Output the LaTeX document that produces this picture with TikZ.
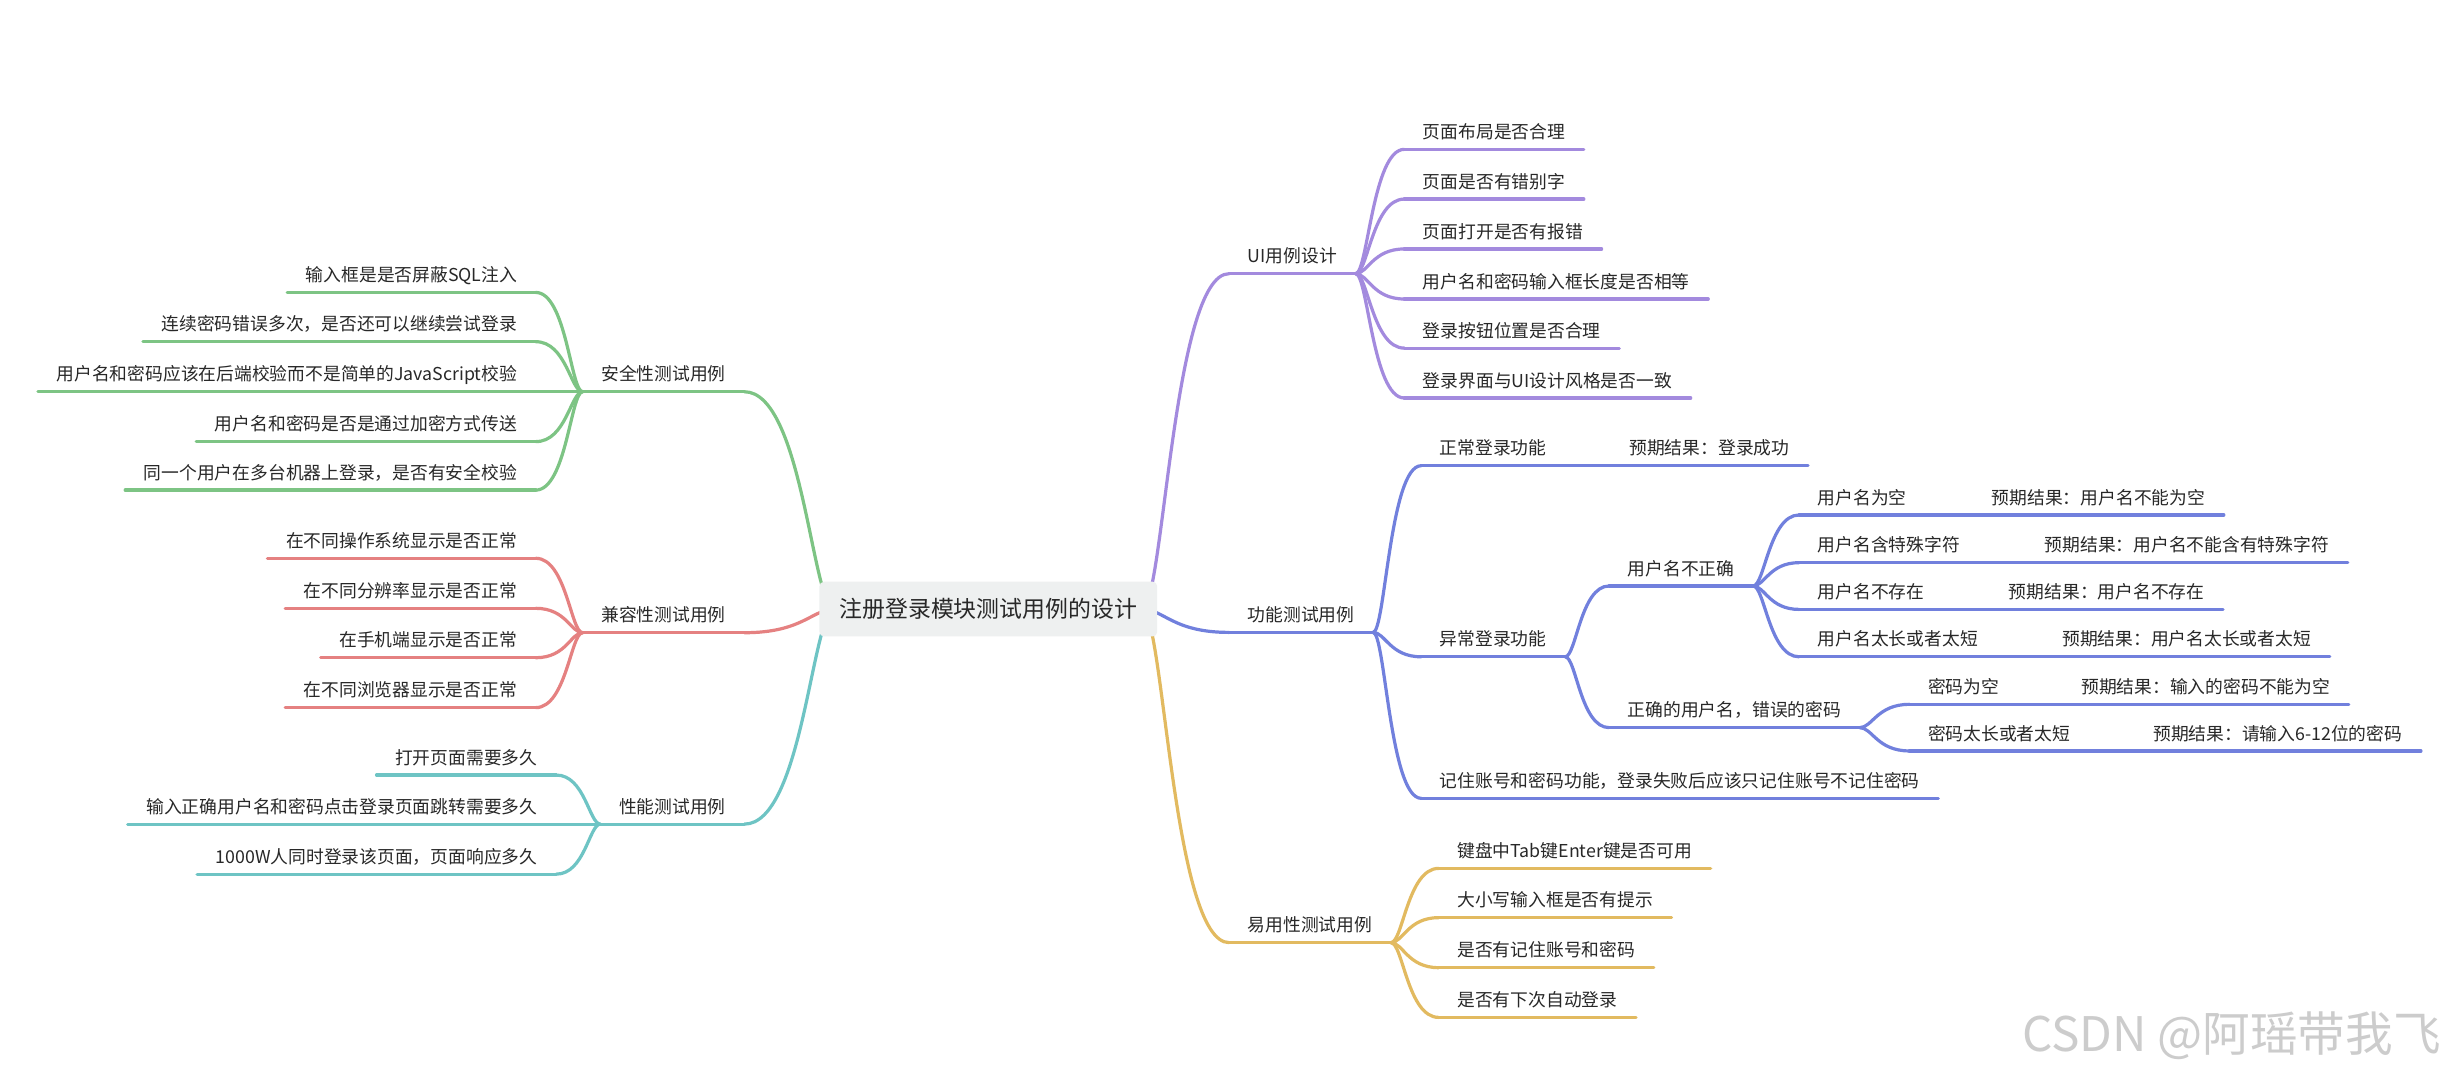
\documentclass[tikz,border=0pt]{standalone}
\usepackage{fontspec}
\setmainfont{Noto Sans CJK SC}
\usepackage{xcolor}
\usepackage{tikz}
\usetikzlibrary{calc, backgrounds}

\definecolor{mmpurple}{RGB}{163,138,222}
\definecolor{mmblue}{RGB}{113,128,221}
\definecolor{mmyellow}{RGB}{226,186,96}
\definecolor{mmgreen}{RGB}{125,196,132}
\definecolor{mmred}{RGB}{229,129,129}
\definecolor{mmteal}{RGB}{110,196,196}
\definecolor{mmtext}{RGB}{40,40,40}
\definecolor{mmroot}{RGB}{238,240,240}

\begin{document}
\begin{tikzpicture}[x=0.03cm, y=-0.03cm,
  topic/.style={font=\fontsize{9.7}{12}\selectfont, text=mmtext, inner xsep=10pt, inner ysep=4.2pt, text height=7.5pt, text depth=1.5pt},
  twig/.style={draw=#1, line width=1.75pt, line cap=round},
  branch/.style={to path={let \p1=(\tikztostart), \p2=(\tikztotarget) in
    .. controls ({\x1+0.25*(\x2-\x1)},\y1) and ({\x1+0.35*(\x2-\x1)},\y2) .. (\tikztotarget)}}]
\useasboundingbox (0,0) rectangle (1568,688);

% Root
\node[fill=mmroot, rounded corners=2.5pt, minimum width=6.48cm, minimum height=1.05cm, font=\fontsize{12.5}{15}\selectfont, text=mmtext] (root) at (632,389.5) {注册登录模块测试用例的设计};
\coordinate (rootR) at ([xshift=-0.3cm]root.east);
\coordinate (rootL) at ([xshift=0.3cm]root.west);

% UI
\node[topic, anchor=south west] (ui) at (786,175) {UI用例设计};
\node[topic, anchor=south west] (ui1) at (898,95.5) {页面布局是否合理};
\node[topic, anchor=south west] (ui2) at (898,127.3) {页面是否有错别字};
\node[topic, anchor=south west] (ui3) at (898,159.2) {页面打开是否有报错};
\node[topic, anchor=south west] (ui4) at (898,191.2) {用户名和密码输入框长度是否相等};
\node[topic, anchor=south west] (ui5) at (898,222.6) {登录按钮位置是否合理};
\node[topic, anchor=south west] (ui6) at (898,254.5) {登录界面与UI设计风格是否一致};

% Function
\node[topic, anchor=south west] (fn) at (786,404.4) {功能测试用例};
\node[topic, anchor=south west] (fn1) at (908.8,297.8) {正常登录功能};
\node[topic, anchor=south west] (fn1r) at (1030,297.8) {预期结果：登录成功};
\node[topic, anchor=south west] (fn2) at (908.8,420) {异常登录功能};
\node[topic, anchor=south west] (fn3) at (908.8,510.5) {记住账号和密码功能，登录失败后应该只记住账号不记住密码};
\node[topic, anchor=south west] (fn21) at (1029,374.7) {用户名不正确};
\node[topic, anchor=south west] (fn22) at (1029,465.3) {正确的用户名，错误的密码};
\node[topic, anchor=south west] (fn211) at (1150.5,329.3) {用户名为空};
\node[topic, anchor=south west] (fn211r) at (1261.8,329.3) {预期结果：用户名不能为空};
\node[topic, anchor=south west] (fn212) at (1150.5,359.8) {用户名含特殊字符};
\node[topic, anchor=south west] (fn212r) at (1295.6,359.8) {预期结果：用户名不能含有特殊字符};
\node[topic, anchor=south west] (fn213) at (1150.5,389.7) {用户名不存在};
\node[topic, anchor=south west] (fn213r) at (1272.7,389.7) {预期结果：用户名不存在};
\node[topic, anchor=south west] (fn214) at (1150.5,420) {用户名太长或者太短};
\node[topic, anchor=south west] (fn214r) at (1306.8,420) {预期结果：用户名太长或者太短};
\node[topic, anchor=south west] (fn221) at (1221,450.4) {密码为空};
\node[topic, anchor=south west] (fn221r) at (1319,450.4) {预期结果：输入的密码不能为空};
\node[topic, anchor=south west] (fn222) at (1221,480.2) {密码太长或者太短};
\node[topic, anchor=south west] (fn222r) at (1365,480.2) {预期结果：请输入6-12位的密码};

% Usability
\node[topic, anchor=south west] (ez) at (786,602.8) {易用性测试用例};
\node[topic, anchor=south west] (ez1) at (920,555.3) {键盘中Tab键Enter键是否可用};
\node[topic, anchor=south west] (ez2) at (920,586.8) {大小写输入框是否有提示};
\node[topic, anchor=south west] (ez3) at (920,618.8) {是否有记住账号和密码};
\node[topic, anchor=south west] (ez4) at (920,650.6) {是否有下次自动登录};

% Security
\node[topic, anchor=south east] (aq) at (476,250.5) {安全性测试用例};
\node[topic, anchor=south east] (aq1) at (342.6,187) {输入框是是否屏蔽SQL注入};
\node[topic, anchor=south east] (aq2) at (342.6,218.5) {连续密码错误多次，是否还可以继续尝试登录};
\node[topic, anchor=south east] (aq3) at (342.6,250.5) {用户名和密码应该在后端校验而不是简单的JavaScript校验};
\node[topic, anchor=south east] (aq4) at (342.6,282.4) {用户名和密码是否是通过加密方式传送};
\node[topic, anchor=south east] (aq5) at (342.6,313.4) {同一个用户在多台机器上登录，是否有安全校验};

% Compatibility
\node[topic, anchor=south east] (jr) at (476,404.6) {兼容性测试用例};
\node[topic, anchor=south east] (jr1) at (342.6,357) {在不同操作系统显示是否正常};
\node[topic, anchor=south east] (jr2) at (342.6,389) {在不同分辨率显示是否正常};
\node[topic, anchor=south east] (jr3) at (342.6,420.6) {在手机端显示是否正常};
\node[topic, anchor=south east] (jr4) at (342.6,452.5) {在不同浏览器显示是否正常};

% Performance
\node[topic, anchor=south east] (xn) at (476,527) {性能测试用例};
\node[topic, anchor=south east] (xn1) at (355.6,495.6) {打开页面需要多久};
\node[topic, anchor=south east] (xn2) at (355.6,527) {输入正确用户名和密码点击登录页面跳转需要多久};
\node[topic, anchor=south east] (xn3) at (355.6,559) {1000W人同时登录该页面，页面响应多久};

% Watermark
\node[font=\fontsize{26}{30}\selectfont, text=black!20, anchor=east] (mark) at (1565,662) {CSDN @阿瑶带我飞};

% Underlines
\foreach \n in {ui,ui1,ui2,ui3,ui4,ui5,ui6}
  \draw[twig=mmpurple] (\n.south west) -- (\n.south east);
\foreach \n in {fn,fn1,fn1r,fn2,fn3,fn21,fn22,fn211,fn211r,fn212,fn212r,fn213,fn213r,fn214,fn214r,fn221,fn221r,fn222,fn222r}
  \draw[twig=mmblue] (\n.south west) -- (\n.south east);
\foreach \n in {ez,ez1,ez2,ez3,ez4}
  \draw[twig=mmyellow] (\n.south west) -- (\n.south east);
\foreach \n in {aq,aq1,aq2,aq3,aq4,aq5}
  \draw[twig=mmgreen] (\n.south west) -- (\n.south east);
\foreach \n in {jr,jr1,jr2,jr3,jr4}
  \draw[twig=mmred] (\n.south west) -- (\n.south east);
\foreach \n in {xn,xn1,xn2,xn3}
  \draw[twig=mmteal] (\n.south west) -- (\n.south east);

% Connectors
\begin{scope}[on background layer]
\fill[white] (0,0) rectangle (1568,688);
\draw[twig=mmpurple] (rootR) to[branch] (ui.south west);
\draw[twig=mmblue] (rootR) to[branch] (fn.south west);
\draw[twig=mmyellow] (rootR) to[branch] (ez.south west);
\draw[twig=mmgreen] (rootL) to[branch] (aq.south east);
\draw[twig=mmred] (rootL) to[branch] (jr.south east);
\draw[twig=mmteal] (rootL) to[branch] (xn.south east);

\foreach \i in {1,...,6}
  \draw[twig=mmpurple] (ui.south east) to[branch] (ui\i.south west);
\foreach \i in {1,2,3}
  \draw[twig=mmblue] (fn.south east) to[branch] (fn\i.south west);
\foreach \i in {1,2}
  \draw[twig=mmblue] (fn2.south east) to[branch] (fn2\i.south west);
\foreach \i in {1,...,4}
  \draw[twig=mmblue] (fn21.south east) to[branch] (fn21\i.south west);
\foreach \i in {1,2}
  \draw[twig=mmblue] (fn22.south east) to[branch] (fn22\i.south west);
\foreach \n in {fn1,fn211,fn212,fn213,fn214,fn221,fn222}
  \draw[twig=mmblue] (\n.south east) -- (\n r.south west);
\foreach \i in {1,...,4}
  \draw[twig=mmyellow] (ez.south east) to[branch] (ez\i.south west);
\foreach \i in {1,...,5}
  \draw[twig=mmgreen] (aq.south west) to[branch] (aq\i.south east);
\foreach \i in {1,...,4}
  \draw[twig=mmred] (jr.south west) to[branch] (jr\i.south east);
\foreach \i in {1,2,3}
  \draw[twig=mmteal] (xn.south west) to[branch] (xn\i.south east);
\end{scope}

\end{tikzpicture}
\end{document}
